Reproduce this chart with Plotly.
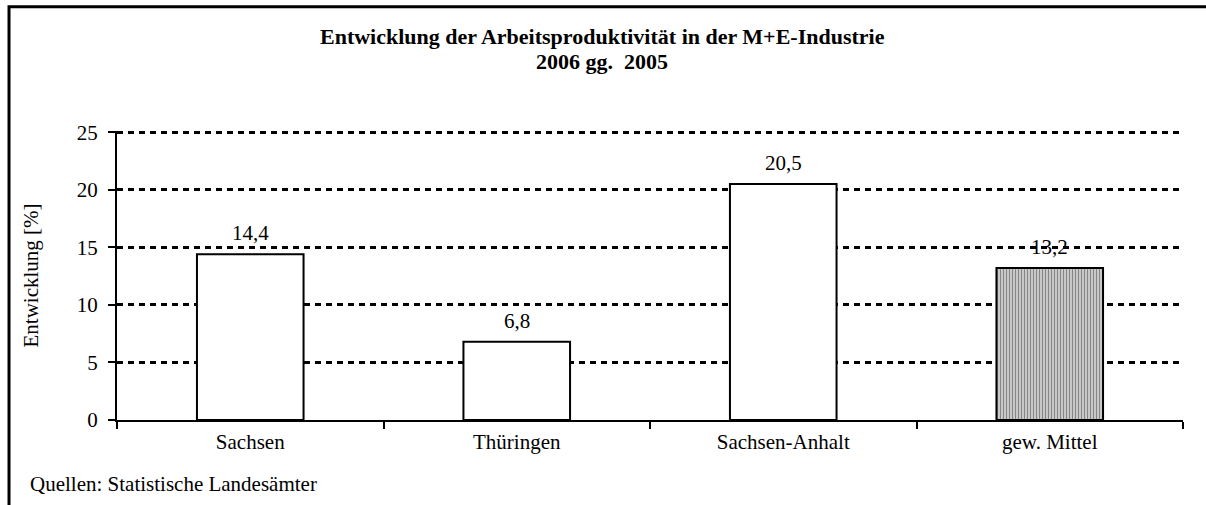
import plotly.graph_objects as go

# --- DATA ---
regions = ["Sachsen", "Thüringen", "Sachsen-Anhalt", "gew. Mittel"]
entwicklung = [14.4, 6.8, 20.5, 13.2]
y_ticks = [0, 5, 10, 15, 20, 25]

FONT = "Liberation Serif, Times New Roman, serif"

# white bars, last one (average) hatched grey
fill = ["white", "white", "white", "#c8c8c8"]
shapes_pat = ["", "", "", "|"]

fig = go.Figure()
fig.add_trace(go.Bar(
    x=regions, y=entwicklung, width=0.4,
    marker=dict(
        color=fill,
        line=dict(color="black", width=2),
        pattern=dict(shape=shapes_pat, fgcolor="#7a7a7a", bgcolor="#d9d9d9",
                     size=3, solidity=0.35, fillmode="overlay"),
    ),
    hoverinfo="skip",
))

# value labels above bars
for reg, val in zip(regions, entwicklung):
    fig.add_annotation(x=reg, y=val, text=f"{val:.1f}".replace(".", ","),
                       showarrow=False, yshift=21,
                       font=dict(family=FONT, size=21, color="black"))

# outer frame of the chart (runs off the right/bottom edge like the original)
fig.add_shape(type="rect", xref="paper", yref="paper",
              x0=-0.1013, x1=1.05, y0=-0.4, y1=1.43,
              line=dict(color="black", width=3), layer="above")

# title, two lines
fig.add_annotation(xref="paper", yref="paper", x=0.455, y=1.326,
                   text="<b>Entwicklung der Arbeitsproduktivität in der M+E-Industrie</b>",
                   showarrow=False, xanchor="center", yanchor="middle",
                   font=dict(family=FONT, size=22, color="black"))
fig.add_annotation(xref="paper", yref="paper", x=0.455, y=1.241,
                   text="<b>2006 gg.  2005</b>",
                   showarrow=False, xanchor="center", yanchor="middle",
                   font=dict(family=FONT, size=22, color="black"))

# y axis title
fig.add_annotation(xref="paper", yref="paper", x=-0.0816, y=0.5,
                   text="Entwicklung [%]", textangle=-90,
                   showarrow=False, xanchor="center", yanchor="middle",
                   font=dict(family=FONT, size=21, color="black"))

# source note
fig.add_annotation(xref="paper", yref="paper", x=-0.0835, y=-0.222,
                   xanchor="left", yanchor="middle", showarrow=False,
                   text="Quellen: Statistische Landesämter",
                   font=dict(family=FONT, size=21, color="black"))

fig.update_layout(
    width=1206, height=505,
    margin=dict(l=117, r=23, t=131, b=85),
    paper_bgcolor="white", plot_bgcolor="white",
    showlegend=False,
    separators=",.",
    font=dict(family=FONT, size=21, color="black"),
    xaxis=dict(
        showline=True, linecolor="black", linewidth=2,
        ticks="outside", tickson="boundaries", ticklen=7, tickwidth=2, tickcolor="black",
        showgrid=False, tickfont=dict(family=FONT, size=21),
        ticklabelstandoff=2,
    ),
    yaxis=dict(
        range=[0, 25.1], tickvals=y_ticks,
        showline=True, linecolor="black", linewidth=2,
        ticks="outside", ticklen=7, tickwidth=2, tickcolor="black",
        ticklabelstandoff=6,
        showgrid=True, gridcolor="black", gridwidth=3, griddash="6px,5px",
        zeroline=False,
        tickfont=dict(family=FONT, size=21),
    ),
)

# page body has a default 8px margin; drop it so the figure sits at 0,0
fig.write_html("out.html", config={"displayModeBar": False},
               post_script="document.body.style.margin='0';")
